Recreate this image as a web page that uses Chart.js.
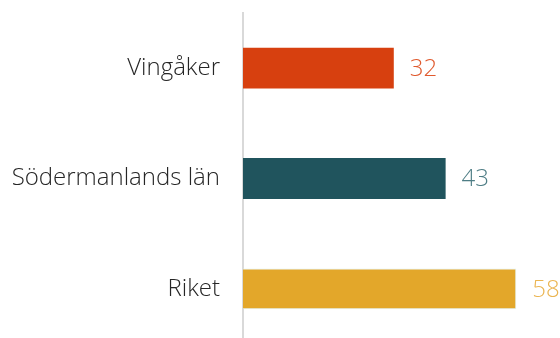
<!DOCTYPE html>
<html>
<head>
<meta charset="utf-8">
<script src="https://cdn.jsdelivr.net/npm/chart.js@4.4.0/dist/chart.umd.min.js"></script>
<style>
  html, body { margin: 0; padding: 0; background: #fff; overflow: hidden; }
  #wrap { width: 560px; height: 344px; }
</style>
</head>
<body>
<div id="wrap"><canvas id="chart" width="560" height="344"></canvas></div>
<script>
// regions and their values
const regions = ['Vingåker', 'Södermanlands län', 'Riket'];
const values = [32, 43, 58];
const barColors = ['#d7400f', '#20545d', '#e3a72a'];
const labelColors = ['#e05a2e', '#4e7d85', '#ebb552'];

const FONT = '"Open Sans", "Noto Sans", sans-serif';

// value text next to the end of each bar
const valueLabels = {
    id: 'valueLabels',
    afterDatasetsDraw(chart) {
        const ctx = chart.ctx;
        const meta = chart.getDatasetMeta(0);
        ctx.save();
        ctx.font = '300 24px ' + FONT;
        ctx.textAlign = 'left';
        ctx.textBaseline = 'middle';
        meta.data.forEach((bar, i) => {
            ctx.fillStyle = labelColors[i];
            ctx.fillText(values[i], bar.x + 16, bar.y + 1);
        });
        ctx.restore();
    }
};

new Chart(document.getElementById('chart').getContext('2d'), {
    type: 'bar',
    data: {
        labels: regions,
        datasets: [{
            data: values,
            backgroundColor: barColors,
            borderColor: ['transparent', 'transparent', '#dff1ef'],
            borderWidth: [0, 0, 1],
            borderSkipped: 'left',
            categoryPercentage: 1,
            barPercentage: 0.37
        }]
    },
    options: {
        indexAxis: 'y',
        responsive: false,
        animation: false,
        layout: { padding: { top: 13, right: 6, bottom: 0, left: 0 } },
        plugins: {
            legend: { display: false },
            tooltip: { enabled: false }
        },
        scales: {
            x: {
                display: false,
                min: 0,
                max: 66
            },
            y: {
                afterFit: (scale) => {
                    scale.width = 243;
                    scale.paddingTop = 0;
                    scale.paddingBottom = 0;
                },
                grid: { display: false },
                border: { display: true, color: '#d9d9d9', width: 2 },
                ticks: {
                    color: '#262626',
                    padding: 15,
                    font: { family: FONT, size: 24, weight: 300 }
                }
            }
        }
    },
    plugins: [valueLabels]
});
</script>
</body>
</html>
